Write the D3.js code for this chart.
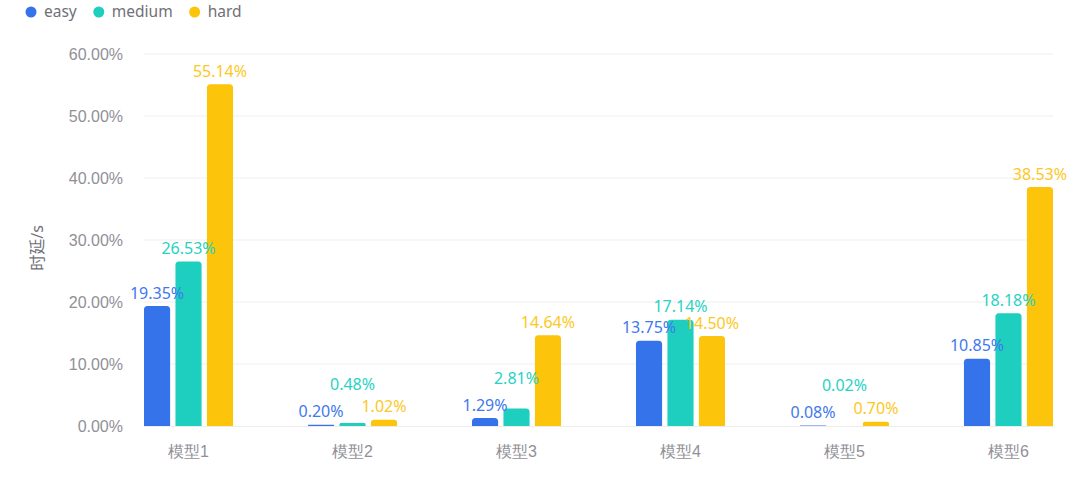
<!DOCTYPE html>
<html><head><meta charset="utf-8">
<script src="https://cdn.jsdelivr.net/npm/d3@7/dist/d3.min.js"></script>
<style>
html,body{margin:0;padding:0;background:#fff;}
svg{display:block;font-family:"Noto Sans","Noto Sans CJK SC",sans-serif;}
</style></head>
<body><svg id="c" width="1080" height="489"></svg>
<script>
const categories = ["模型1","模型2","模型3","模型4","模型5","模型6"];
const seriesNames = ["easy","medium","hard"];
const easy = [19.35,0.20,1.29,13.75,0.08,10.85];
const medium = [26.53,0.48,2.81,17.14,0.02,18.18];
const hard = [55.14,1.02,14.64,14.50,0.70,38.53];
const yTicks = [0,10,20,30,40,50,60];
const colors = ["#3573eb","#1ecfbf","#fdc40c"];
const labelColors = ["#4079ee","#2ad2c3","#fdc81e"];
const yTitle = "时延/s";

const svg = d3.select("#c");
const series = [easy, medium, hard];

const x = d3.scaleBand().domain(categories).range([144,1053]).paddingInner(0.457).paddingOuter(0);
const xs = d3.scaleBand().domain(seriesNames).range([0,x.bandwidth()]).paddingInner(0.17).paddingOuter(0);
const y = d3.scaleLinear().domain([0,60]).range([426,54]);

// grid
svg.append("g").selectAll("line").data(yTicks.filter(d=>d>0)).join("line")
  .attr("x1",144).attr("x2",1053).attr("y1",d=>y(d)).attr("y2",d=>y(d))
  .attr("stroke","#efefef").attr("stroke-width",1);

// y axis labels
const yAxis = d3.axisLeft(y).tickValues(yTicks).tickFormat(d=>d.toFixed(2)+"%").tickSize(0).tickPadding(21);
const ya = svg.append("g").attr("transform","translate(144,0)").call(yAxis);
ya.select(".domain").remove();
ya.selectAll("text").attr("fill","#909097").attr("font-size",16);

// x axis
const xAxis = d3.axisBottom(x).tickSize(0).tickPadding(20);
const xa = svg.append("g").attr("transform","translate(0,426)").call(xAxis);
xa.select(".domain").attr("stroke","#ececec").attr("d","M144,0.5H1053");
xa.selectAll("text").attr("fill","#909097").attr("font-size",16);

// y title
svg.append("text").attr("transform","translate(43,248) rotate(-90)")
  .attr("text-anchor","middle").attr("fill","#707078").attr("font-size",16).text(yTitle);

// bars
const rows = [];
categories.forEach((c,i)=>{
  seriesNames.forEach((s,j)=>rows.push({c, s, j, v: series[j][i]}));
});
const g = svg.append("g");
g.selectAll("path").data(rows).join("path")
  .attr("fill",d=>colors[d.j])
  .attr("d",d=>{
    const x0 = x(d.c)+xs(d.s), w = xs.bandwidth(), y0 = y(d.v), h = 426 - y0;
    const r = Math.min(3.5, h/2, w/2);
    return `M${x0},426V${y0+r}Q${x0},${y0} ${x0+r},${y0}H${x0+w-r}Q${x0+w},${y0} ${x0+w},${y0+r}V426Z`;
  });

// labels with simple overlap shift
const labelW = 50, labelH = 16, gap = 27;
const placed = [];
rows.forEach(d=>{
  const cx = x(d.c)+xs(d.s)+xs.bandwidth()/2;
  let cy = y(d.v) - 13;
  let changed = true;
  while(changed){
    changed = false;
    for(const p of placed){
      if(Math.abs(p.cx-cx) < labelW && Math.abs(p.cy-cy) < labelH){
        cy = p.cy - gap; changed = true;
      }
    }
  }
  placed.push({cx,cy});
  d.lx = cx; d.ly = cy;
});
svg.append("g").selectAll("text").data(rows).join("text")
  .attr("x",d=>d.lx).attr("y",d=>d.ly).attr("dy","0.35em")
  .attr("text-anchor","middle").attr("font-size",16)
  .attr("fill",d=>labelColors[d.j]).text(d=>d.v.toFixed(2)+"%");

// legend
let lx = 31;
seriesNames.forEach((s,i)=>{
  const lg = svg.append("g").attr("transform",`translate(${lx},12)`);
  lg.append("circle").attr("r",5.5).attr("fill",colors[i]);
  const t = lg.append("text").attr("x",13).attr("dy","0.35em").attr("font-size",15.5)
    .attr("fill","#707078").text(s);
  lx += 13 + t.node().getComputedTextLength() + 22;
});
</script></body></html>
